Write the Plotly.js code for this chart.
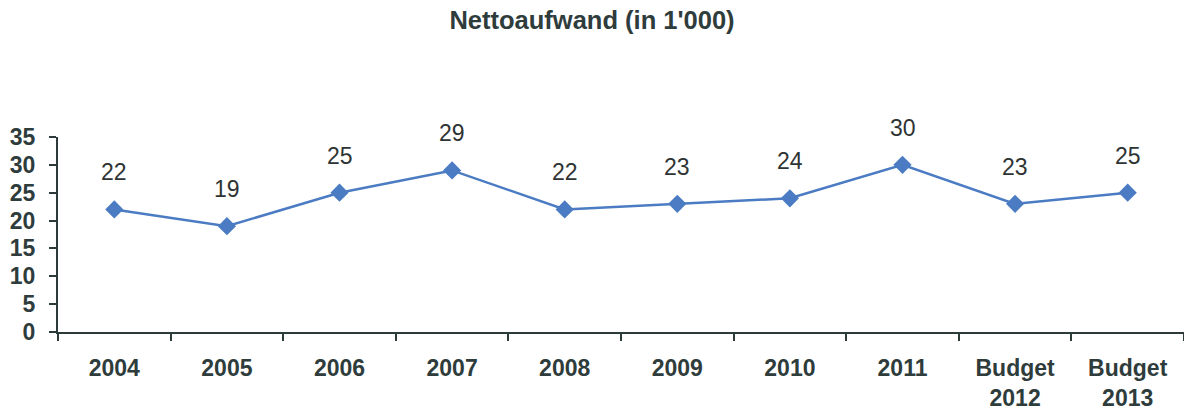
<!DOCTYPE html>
<html>
<head>
<meta charset="utf-8">
<script src="https://cdn.plot.ly/plotly-3.0.1.min.js"></script>
<style>html,body{margin:0;padding:0;background:#fff;}#chart{width:1184px;height:412px;}</style>
</head>
<body>
<div id="chart"></div>
<script>
const categories = ["2004", "2005", "2006", "2007", "2008", "2009", "2010", "2011", "Budget<br>2012", "Budget<br>2013"];
const values = [22, 19, 25, 29, 22, 23, 24, 30, 23, 25];
const yTicks = [0, 5, 10, 15, 20, 25, 30, 35];

const axisColor = "#2c3b3a";
const textColor = "#2f3c3c";
const fontFamily = "'Liberation Sans', Arial, sans-serif";

const trace = {
  type: "scatter",
  mode: "lines+markers",
  x: categories,
  y: values,
  line: {color: "#4a7bc3", width: 2.5},
  marker: {symbol: "diamond", size: 14, color: "#4a7bc3", line: {width: 0}},
  hoverinfo: "skip",
  showlegend: false
};

const annotations = categories.map((c, i) => ({
  x: i, y: values[i], xref: "x", yref: "y",
  text: String(values[i]),
  showarrow: false,
  yshift: 37,
  font: {family: fontFamily, size: 23, color: "#2e3333"}
}));

const layout = {
  width: 1184, height: 412,
  margin: {l: 58, r: 0, t: 137, b: 80},
  paper_bgcolor: "#ffffff",
  plot_bgcolor: "#ffffff",
  title: {
    text: "<b>Nettoaufwand (in 1'000)</b>",
    x: 0.5, xref: "container", xanchor: "center",
    y: 0.951, yref: "container", yanchor: "middle",
    font: {family: fontFamily, size: 25.5, color: textColor}
  },
  xaxis: {
    type: "category",
    range: [-0.5, categories.length - 0.5],
    showgrid: false, zeroline: false,
    showline: true, linecolor: axisColor, linewidth: 2,
    ticks: "outside", tickson: "boundaries", ticklen: 7, tickwidth: 2, tickcolor: axisColor,
    ticklabelstandoff: 14,
    tickfont: {family: fontFamily, size: 23, color: textColor, weight: "bold"}
  },
  yaxis: {
    range: [0, 35],
    tickvals: yTicks,
    ticktext: yTicks.map(String),
    showgrid: false, zeroline: false,
    showline: true, linecolor: axisColor, linewidth: 2,
    ticks: "outside", ticklen: 7, tickwidth: 2, tickcolor: axisColor,
    ticklabelstandoff: 9,
    tickfont: {family: fontFamily, size: 23, color: textColor, weight: "bold"}
  },
  annotations: annotations
};

Plotly.newPlot("chart", [trace], layout, {staticPlot: true, displayModeBar: false});
</script>
</body>
</html>
